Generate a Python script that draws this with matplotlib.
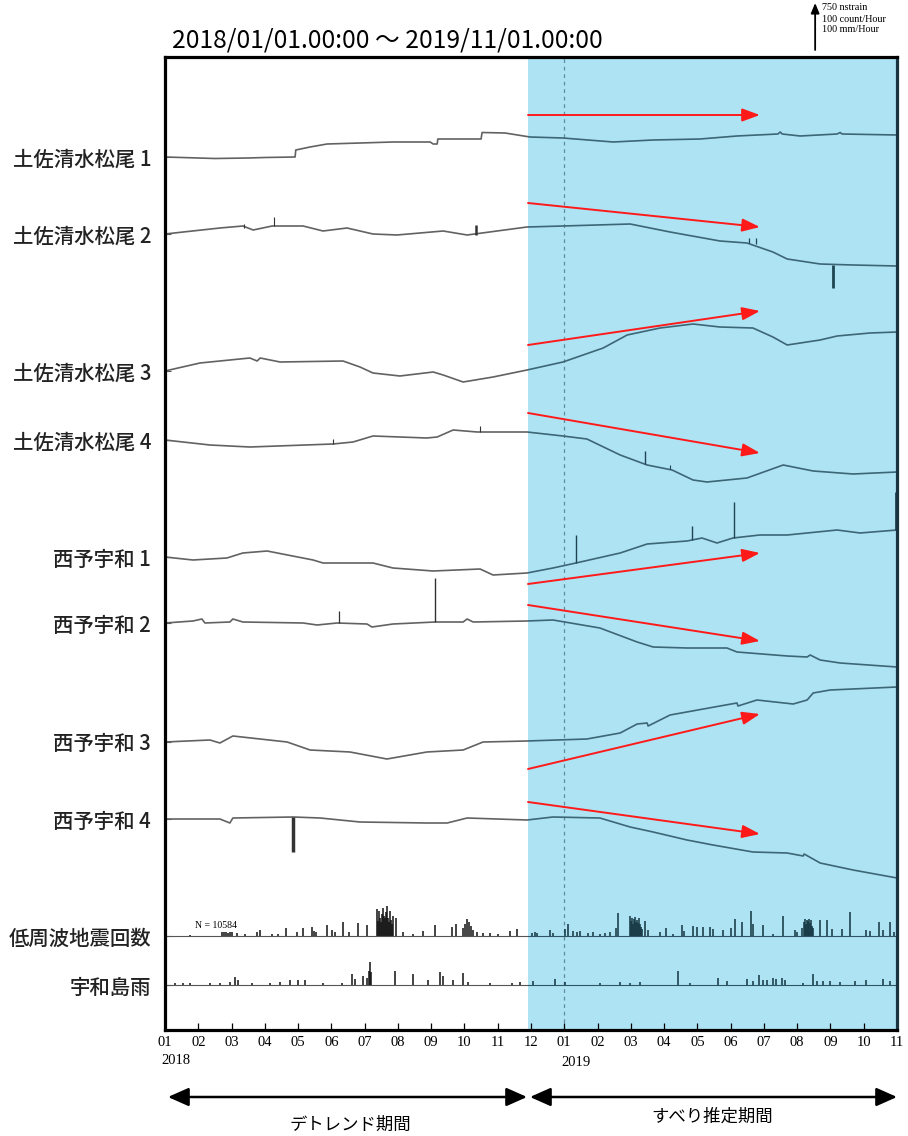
import numpy as np
import matplotlib.pyplot as plt
from matplotlib.patches import Rectangle

JP = ['Noto Sans CJK JP', 'DejaVu Sans']
SERIF = ['Liberation Serif', 'DejaVu Serif']

# x in months since 2018/01/01, y in plot rows (axis is inverted: larger = lower)
SLIP_START = 10.9
X_END = 22.0
TOP, BOTTOM = 57, 1030

MONTH_LABELS = ['01', '02', '03', '04', '05', '06', '07', '08', '09', '10', '11', '12',
                '01', '02', '03', '04', '05', '06', '07', '08', '09', '10', '11']

# ── strain traces ───────────────────────────────────────────
matsuo1_m = [0, 1.5, 2.5, 3.0, 3.91, 3.93, 4.36, 4.87, 6.85, 7.97, 8.06, 8.18, 8.20, 9.50, 9.53,
             10.22, 10.97, 11.96, 13.47, 14.67, 16.08, 17.19, 18.42, 18.49, 18.55, 19.09, 20.20,
             20.29, 20.35, 22.0]
matsuo1_y = [157, 158.5, 158, 157.5, 157, 150, 147, 144, 142, 142, 144, 144, 139, 139, 132.5,
             133, 137, 138, 142, 140, 139, 136, 134, 132, 134, 136, 134, 132.5, 134, 135]

matsuo2_m = [0, 1.65, 2.34, 2.65, 3.22, 4.15, 4.75, 5.47, 6.25, 6.97, 8.36, 9.08, 10.88, 11.96,
             13.98, 15.18, 16.68, 17.49, 18.27, 18.70, 19.69, 20.68, 22.0]
matsuo2_y = [234, 228, 226, 230, 226, 226, 231, 228, 234, 235, 231, 235, 227, 226,
             224, 232, 241, 243, 252, 259, 264, 265, 266]

matsuo3_m = [0, 1.05, 2.55, 2.77, 2.86, 3.46, 5.35, 5.86, 6.25, 7.06, 8.06, 8.36, 8.96, 9.86,
             10.88, 11.96, 13.17, 13.89, 14.88, 15.87, 16.68, 17.67, 18.27, 18.70, 19.69, 20.20,
             21.19, 22.0]
matsuo3_y = [371, 363, 358, 361, 358, 362, 361, 367, 373, 376, 372, 375, 382, 377,
             370, 362, 348, 335, 328, 324, 327, 328, 337, 345, 340, 336, 333, 332]

matsuo4_m = [0, 1.35, 2.55, 5.05, 5.65, 6.25, 7.87, 8.18, 8.66, 9.38, 10.88, 11.96, 12.68, 13.68,
             14.49, 15.24, 15.87, 16.29, 17.49, 18.58, 19.48, 20.68, 22.0]
matsuo4_y = [440, 445, 447, 444, 442, 436, 438, 437, 430, 432, 432, 436, 439, 455,
             465, 470, 480, 482, 478, 465, 471, 474, 472]

uwa1_m = [0, 0.84, 1.86, 2.34, 3.07, 4.45, 4.75, 6.25, 6.85, 8.06, 9.47, 9.86, 10.88, 11.66,
          12.35, 13.68, 14.49, 15.69, 16.14, 16.59, 17.07, 17.88, 18.70, 20.20, 20.89, 22.0]
uwa1_y = [557, 560, 558, 553, 551, 560, 563, 563, 568, 571, 569, 575, 573, 568,
          563, 553, 544, 541, 538, 543, 538, 535, 535, 530, 533, 530]

uwa2_m = [0, 0.84, 1.11, 1.20, 1.95, 2.04, 2.34, 4.15, 4.57, 5.17, 6.07, 6.22, 6.85, 8.12, 8.96,
          9.08, 9.26, 10.88, 11.66, 13.07, 14.19, 14.67, 15.69, 16.89, 17.19, 18.70, 19.30,
          19.39, 19.69, 20.29, 22.0]
uwa2_y = [623, 621, 619, 623, 622, 619, 622, 623, 625, 623, 624, 627, 624, 622, 622,
          619, 622, 621, 620, 628, 642, 647, 648, 648, 652, 656, 657,
          655, 660, 663, 667]

uwa3_m = [0, 1.35, 1.65, 2.04, 3.67, 4.36, 5.56, 6.67, 7.87, 8.96, 9.56, 10.88, 12.68, 13.68,
          14.19, 14.49, 14.52, 15.18, 16.68, 17.19, 17.22, 17.79, 18.88, 19.30, 19.48, 19.99, 22.0]
uwa3_y = [742, 740, 743, 736, 742, 750, 752, 759, 752, 750, 742, 741, 739, 733,
          724, 723, 726, 715, 706, 703, 706, 700, 704, 700, 693, 690, 687]

uwa4_m = [0, 1.65, 1.95, 2.04, 3.85, 4.66, 5.86, 7.87, 8.48, 9.08, 10.88, 11.66, 13.07, 13.98,
          14.67, 15.69, 16.47, 17.67, 18.70, 19.18, 19.21, 19.69, 20.68, 22.0]
uwa4_y = [819, 819, 823, 818, 817, 818, 822, 823, 823, 818, 820, 817, 818, 827,
          832, 840, 845, 852, 853, 856, 854, 863, 870, 878]

# short offsets (month, from, to, width)
spike_m = [2.37, 3.28, 9.35, 17.55, 17.76, 20.08, 5.05, 9.47, 14.43, 15.18,
           12.35, 15.84, 17.10, 21.98, 5.23, 8.12, 3.85]
spike_y0 = [228, 226, 235, 243, 244, 265, 444, 432, 464, 469,
            563, 540, 538, 530, 623, 622, 817]
spike_y1 = [224, 217, 225, 238, 238, 288, 439, 426, 451, 465,
            535, 526, 502, 492, 611, 578, 852]
spike_w = [0.8, 0.8, 1.8, 0.9, 0.9, 2.0, 0.8, 0.8, 1.0, 0.8,
           1.0, 1.0, 1.0, 2.0, 0.9, 1.0, 2.5]

# ── low-frequency tremor counts / Uwajima rain (bar heights in rows) ─────
COUNT_BASE = 936
count_m = [0.75, 1.71, 1.77, 1.83, 1.89, 1.95, 2.01, 2.16, 2.40, 2.77, 2.86, 3.22, 3.40, 3.64,
           3.97, 4.15, 4.42, 4.48, 4.54, 4.87, 5.02, 5.11, 5.35, 5.53, 5.80, 6.07,
           6.37, 6.40, 6.43, 6.46, 6.49, 6.52, 6.55, 6.58, 6.61, 6.64, 6.67, 6.70, 6.73, 6.76,
           6.79, 6.82, 6.85, 6.94, 7.15, 7.45, 7.75, 8.12, 8.63, 8.75, 8.96, 9.02, 9.08, 9.14,
           9.20, 9.26, 9.38, 9.56, 9.77, 10.01, 10.37, 10.58,
           11.03, 11.12, 11.18, 11.57, 11.66, 12.02, 12.11, 12.26, 12.38, 12.47, 12.71, 12.86,
           13.07, 13.23, 13.38, 13.56, 13.62, 13.98, 14.01, 14.04, 14.07, 14.10, 14.13, 14.16,
           14.19, 14.22, 14.25, 14.28, 14.31, 14.34, 14.43, 14.52, 14.88, 15.06, 15.27, 15.54,
           15.60, 15.87, 15.99, 16.17, 16.38, 16.47, 16.77, 17.01, 17.13, 17.34, 17.61, 17.67,
           17.97, 18.27, 18.58, 18.94, 19.00, 19.15, 19.21, 19.24, 19.27, 19.30, 19.33, 19.36,
           19.39, 19.42, 19.45, 19.48, 19.69, 19.90, 20.05, 20.35, 20.59, 21.07, 21.19, 21.46,
           21.58, 21.79, 21.91]
count_h = [1, 4, 4, 4, 3, 4, 4, 3, 2, 4, 6, 2, 2, 8,
           4, 8, 9, 5, 4, 11, 6, 4, 14, 4, 13, 11,
           27, 15, 25, 18, 14, 22, 28, 20, 18, 24, 30, 18, 14, 25,
           16, 12, 20, 18, 4, 2, 5, 11, 9, 12, 8, 12, 17, 14,
           10, 6, 4, 3, 3, 2, 5, 7,
           3, 4, 3, 6, 3, 7, 12, 5, 4, 5, 3, 4,
           2, 3, 4, 8, 23, 20, 15, 18, 12, 17, 19, 14,
           16, 13, 18, 12, 9, 7, 15, 6, 4, 8, 2, 11,
           5, 10, 9, 9, 9, 7, 6, 8, 17, 14, 25, 12,
           11, 2, 20, 6, 4, 8, 14, 17, 12, 16, 15, 17,
           13, 16, 10, 8, 16, 16, 7, 7, 24, 6, 5, 14,
           6, 14, 4]

RAIN_BASE = 985
rain_m = [0.30, 0.54, 0.75, 1.35, 1.65, 1.95, 2.10, 2.19, 2.61, 3.16, 3.46, 3.76, 4.00, 4.21,
          4.75, 5.32, 5.62, 5.71, 5.95, 6.07, 6.13, 6.16, 6.19, 6.91, 7.45, 7.90, 8.27, 8.36,
          8.66, 8.96, 9.11, 9.77, 10.43, 10.67,
          11.06, 11.72, 12.02, 13.07, 13.68, 13.98, 14.28, 15.42, 15.78, 16.62, 16.89, 17.49,
          17.67, 17.85, 17.97, 18.09, 18.27, 18.36, 18.55, 18.64, 19.18, 19.48, 19.60, 19.78,
          19.99, 20.29, 20.74, 21.07, 21.58, 21.79]
rain_h = [2, 2, 2, 2, 2, 3, 8, 5, 2, 2, 3, 5, 5, 5,
          2, 2, 11, 6, 9, 7, 14, 23, 13, 14, 11, 5, 13, 9,
          5, 12, 3, 2, 2, 3,
          4, 6, 3, 2, 3, 2, 3, 14, 2, 7, 4, 6,
          4, 10, 5, 5, 7, 6, 7, 5, 2, 11, 4, 4,
          4, 3, 4, 5, 6, 4]

# ── trend arrows (start at month 10.91, tip at month 17.88) ──
arrow_x0, arrow_x1 = 10.91, 17.88
arrow_y0 = [115, 203, 345, 413, 584, 605, 769, 802]
arrow_y1 = [115, 227, 311, 453, 553, 641, 714, 834]

station_names = ['土佐清水松尾 1', '土佐清水松尾 2', '土佐清水松尾 3', '土佐清水松尾 4',
                 '西予宇和 1', '西予宇和 2', '西予宇和 3', '西予宇和 4', '低周波地震回数', '宇和島雨']
traces = [(matsuo1_m, matsuo1_y), (matsuo2_m, matsuo2_y), (matsuo3_m, matsuo3_y),
          (matsuo4_m, matsuo4_y), (uwa1_m, uwa1_y), (uwa2_m, uwa2_y),
          (uwa3_m, uwa3_y), (uwa4_m, uwa4_y)]

GREY, TEAL = '#626262', '#3d6676'
BAR_DARK, BAR_TEAL = '#111111', '#123440'
BLUE = '#aee3f4'

fig = plt.figure(figsize=(9.08, 11.36), dpi=100)
ax = fig.add_axes([165 / 908, 106 / 1136, 732 / 908, 973 / 1136])
ax.set_xlim(0, X_END)
ax.set_ylim(BOTTOM, TOP)

ax.axvspan(SLIP_START, X_END, color=BLUE, lw=0, zorder=0)
ax.axvline(12, color='#5f8d9d', lw=0.9, ls=(0, (3, 3)), zorder=1)

clip_left = Rectangle((0, TOP), SLIP_START, BOTTOM - TOP, transform=ax.transData)
clip_right = Rectangle((SLIP_START, TOP), X_END - SLIP_START, BOTTOM - TOP, transform=ax.transData)


def two_tone(draw, left_col, right_col):
    # same artist drawn twice, coloured differently on each side of SLIP_START
    for clip, col in ((clip_left, left_col), (clip_right, right_col)):
        art = draw(col)
        art.set_clip_path(clip)


for xm, yv in traces:
    two_tone(lambda c: ax.plot(xm, yv, color=c, lw=1.2, zorder=2)[0], GREY, TEAL)

for sm, s0, s1, sw in zip(spike_m, spike_y0, spike_y1, spike_w):
    two_tone(lambda c: ax.vlines(sm, s0, s1, color=c, lw=sw, zorder=2), '#333333', '#1f4452')

# histograms
for base, xm, hv in ((COUNT_BASE, count_m, count_h), (RAIN_BASE, rain_m, rain_h)):
    tops = [base - h for h in hv]
    two_tone(lambda c: ax.vlines(xm, base, tops, color=c, lw=1.1, zorder=2), BAR_DARK, BAR_TEAL)
    two_tone(lambda c: ax.axhline(base, color=c, lw=0.8, zorder=2), '#555555', '#2e5666')

ax.text(0.9, 926, 'N = 10584', family=SERIF, fontsize=7, ha='left', va='center')

for y0, y1 in zip(arrow_y0, arrow_y1):
    ax.annotate('', xy=(arrow_x1, y1), xytext=(arrow_x0, y0),
                arrowprops=dict(arrowstyle='-|>,head_length=0.9,head_width=0.33',
                                color='#ff1a1a', lw=1.4, shrinkA=0, shrinkB=0,
                                mutation_scale=12), zorder=4)

# axes frame
for side, sp in ax.spines.items():
    sp.set_linewidth(2.3)
    sp.set_color('#1a3340' if side == 'right' else 'black')

ax.set_yticks([t[1][0] for t in traces] + [COUNT_BASE, RAIN_BASE])
ax.set_yticklabels(station_names, family=JP, fontsize=14.7, weight='medium', color='#222222')
ax.tick_params(axis='y', direction='in', length=4, width=0.8, pad=10, colors='#555555',
               labelcolor='#222222')

ax.set_xticks(range(23))
ax.set_xticklabels(MONTH_LABELS, family=SERIF, fontsize=10.5)
ax.tick_params(axis='x', direction='in', length=5, width=0.9, pad=4)
ax.text(-0.12, 1061, '2018', family=SERIF, fontsize=10.5, ha='left', va='center')
ax.text(11.9, 1062, '2019', family=SERIF, fontsize=10.5, ha='left', va='center')

# period title and scale bar
ax.text(0.21, 41, '2018/01/01.00:00 ～ 2019/11/01.00:00', family=JP, fontsize=17.8,
        ha='left', va='center')
ax.annotate('', xy=(19.54, 3), xytext=(19.54, 50), annotation_clip=False,
            arrowprops=dict(arrowstyle='-|>,head_length=0.6,head_width=0.25', color='black',
                            lw=1.3, shrinkA=0, shrinkB=0, mutation_scale=10))
for row, txt in zip([8, 19, 30], ['750 nstrain', '100 count/Hour', '100 mm/Hour']):
    ax.text(19.75, row, txt, family=SERIF, fontsize=7.3, ha='left', va='center')

# analysis periods under the time axis
for x0, x1 in ((0.09, 10.88), (10.97, 22.0)):
    ax.annotate('', xy=(x1, 1097), xytext=(x0, 1097), annotation_clip=False,
                arrowprops=dict(arrowstyle='<|-|>,head_length=0.9,head_width=0.4',
                                color='black', lw=1.8, shrinkA=0, shrinkB=0,
                                mutation_scale=14))
ax.text(5.56, 1125, 'デトレンド期間', family=JP, fontsize=12.5, ha='center', va='center')
ax.text(16.44, 1117, 'すべり推定期間', family=JP, fontsize=12.5, ha='center', va='center')

fig.savefig('out.png', dpi=100)
